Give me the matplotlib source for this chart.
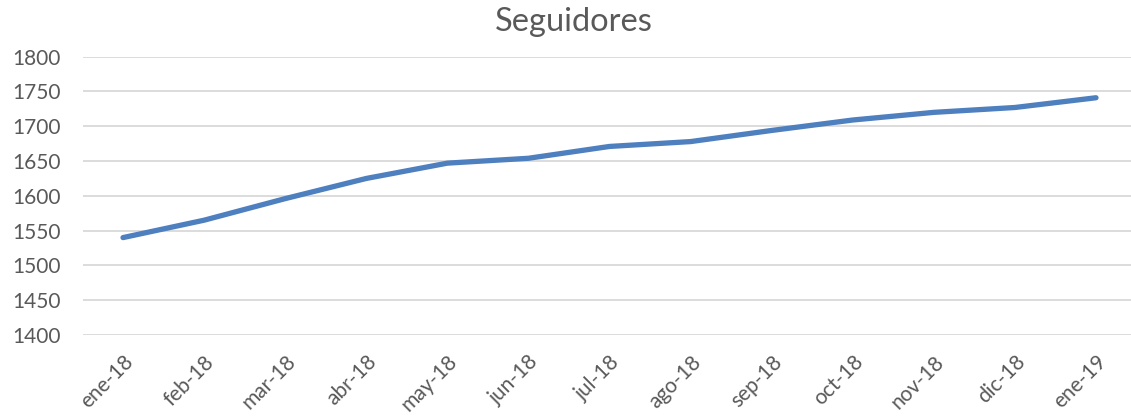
import matplotlib
matplotlib.use("Agg")
import matplotlib.pyplot as plt

months = ["ene-18", "feb-18", "mar-18", "abr-18", "may-18", "jun-18", "jul-18",
          "ago-18", "sep-18", "oct-18", "nov-18", "dic-18", "ene-19"]
seguidores = [1540, 1565, 1596, 1625, 1647, 1654, 1671, 1678, 1694, 1709, 1720, 1727, 1741]
yticks = [1400, 1450, 1500, 1550, 1600, 1650, 1700, 1750, 1800]

plt.rcParams['font.family'] = ['Lato', 'DejaVu Sans']
txt = '#595959'

fig = plt.figure(figsize=(11.31, 4.18), dpi=100)
W, H = 1131, 418
ax = fig.add_axes([83 / W, 1 - 335 / H, (1131 - 83) / W, (335 - 56.7) / H])

x = list(range(len(months)))
ax.plot(x, seguidores, color='#4E7FBF', lw=3.8, solid_capstyle='round', solid_joinstyle='round', zorder=3)

ax.set_ylim(1400, 1800)
ax.set_xlim(-(123 - 83) / 81.08, 12 + (1131 - 1096) / 81.08)
ax.set_yticks(yticks)
ax.set_yticklabels([str(v) for v in yticks])
ax.set_xticks(x)
ax.set_xticklabels(months, rotation=45, ha='right', rotation_mode='anchor')

ax.grid(axis='y', color='#D9D9D9', lw=1.3, zorder=0)
ax.set_axisbelow(True)
for s in ax.spines.values():
    s.set_visible(False)
ax.tick_params(axis='both', length=0, colors=txt, labelsize=15)
ax.tick_params(axis='y', pad=16)
ax.tick_params(axis='x', pad=12)

fig.text(574 / W, 1 - 22 / H, "Seguidores", ha='center', va='center', fontsize=23.5, color=txt)

fig.savefig("out.png", dpi=100)
